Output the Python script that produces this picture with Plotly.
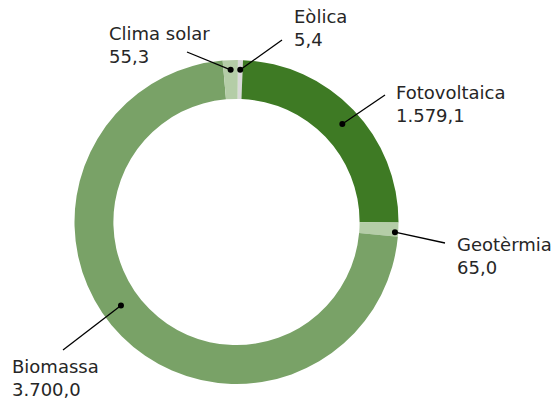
import math
import plotly.graph_objects as go

# slices, clockwise from 12 o'clock
categories = ['Eòlica', 'Fotovoltaica', 'Geotèrmia', 'Biomassa', 'Clima solar']
values = [5.4, 1579.1, 65.0, 3700.0, 55.3]          # figures printed on the labels
shares = [0.5, 24.4, 1.4, 72.2, 1.5]                 # ring share (%) as drawn in the reference
colors = ['#d9d9d9', '#3e7a24', '#b4cda7', '#79a267', '#b4cda7']

W, H = 558, 402
cx, cy, R = 236.5, 222, 162
HOLE = 0.76
ROT = 0.5

# label placement (pixels): text left edge / vertical centre, leader end,
# dot radius (fraction of R) and angle nudge (deg) from the slice middle
label_pos = {
    'Eòlica':       dict(tx=292, ty=28,  lx=282, ly=40,  r=0.94, da=0),
    'Fotovoltaica': dict(tx=394, ty=104, lx=385, ly=95,  r=0.89, da=1),
    'Geotèrmia':    dict(tx=455, ty=256, lx=445, ly=243, r=0.98, da=1),
    'Biomassa':     dict(tx=10,  ty=378, lx=63,  ly=350, r=0.88, da=9),
    'Clima solar':  dict(tx=107, ty=45,  lx=187, ly=52,  r=0.94, da=0),
}


def fmt(v):
    s = f'{v:,.1f}'
    return s.replace(',', 'X').replace('.', ',').replace('X', '.')


fig = go.Figure(go.Pie(
    labels=categories,
    values=shares,
    hole=HOLE,
    sort=False,
    direction='clockwise',
    rotation=ROT,
    marker=dict(colors=colors, line=dict(width=0)),
    textinfo='none',
    hoverinfo='label',
    showlegend=False,
    domain=dict(x=[(cx - R) / W, (cx + R) / W],
                y=[(H - cy - R) / H, (H - cy + R) / H]),
))

total = sum(shares)
start = ROT
shapes, annotations = [], []
for cat, val, sh in zip(categories, values, shares):
    p = label_pos[cat]
    mid = math.radians(start + sh / 2 * 360 / total + p['da'])
    start += sh * 360 / total
    dx = cx + p['r'] * R * math.sin(mid)
    dy = cy - p['r'] * R * math.cos(mid)
    shapes.append(dict(type='line', xref='paper', yref='paper',
                       x0=dx / W, y0=1 - dy / H, x1=p['lx'] / W, y1=1 - p['ly'] / H,
                       line=dict(color='#000000', width=1.3)))
    shapes.append(dict(type='circle', xref='paper', yref='paper',
                       xsizemode='pixel', ysizemode='pixel',
                       xanchor=dx / W, yanchor=1 - dy / H,
                       x0=-3, x1=3, y0=-3, y1=3,
                       fillcolor='#000000', line=dict(width=0)))
    annotations.append(dict(xref='paper', yref='paper',
                            x=p['tx'] / W, y=1 - p['ty'] / H,
                            xanchor='left', yanchor='middle', align='left',
                            text=f'{cat}<br>{fmt(val)}', showarrow=False,
                            font=dict(size=18, color='#262626')))

fig.update_layout(
    width=W, height=H,
    margin=dict(l=0, r=0, t=0, b=0),
    paper_bgcolor='white',
    plot_bgcolor='white',
    font=dict(family='DejaVu Sans, sans-serif'),
    shapes=shapes,
    annotations=annotations,
)

fig.write_html('out.html', config={'displayModeBar': False},
               post_script="document.body.style.margin='0';")
